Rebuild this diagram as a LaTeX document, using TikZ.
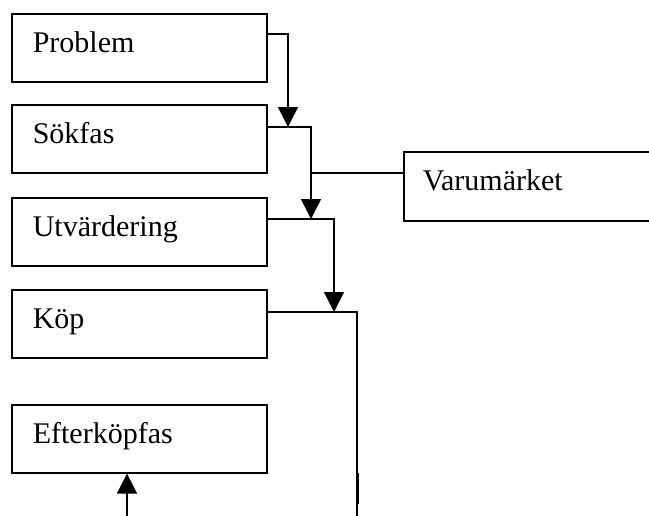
\documentclass[tikz,border=0pt]{standalone}
\usepackage{fontspec}
\setmainfont{Liberation Serif}
\usetikzlibrary{arrows.meta}
\begin{document}
\begin{tikzpicture}[x=1pt,y=-1pt,
  stage/.style={draw,line width=1.6pt,anchor=north west,inner xsep=21pt,inner ysep=0pt,
    text width=213pt,align=left,text height=39pt,text depth=29pt,
    font=\fontsize{30}{36}\selectfont},
  conn/.style={line width=1.5pt},
  arr/.style={conn,-{Triangle[length=20pt,width=20pt]}}]
\useasboundingbox (0,0) rectangle (649,515);
\clip (0,0) rectangle (649,515);
\node[stage] (prob) at (11,13) {Problem};
\node[stage] (sok) at (11,104) {Sökfas};
\node[stage] (utv) at (11,197) {Utvärdering};
\node[stage] (kop) at (11,289) {Köp};
\node[stage] (eft) at (11,404) {Efterköpfas};
\node[stage,inner xsep=19pt,text width=262pt,text depth=30pt] (var) at (403,151) {Varumärket};
\coordinate (p1) at (288,34);
\coordinate (p2) at (288,127);
\coordinate (s1) at (311,127);
\coordinate (s2) at (311,219);
\coordinate (s3) at (311,173);
\coordinate (u1) at (334,219);
\coordinate (u2) at (334,312);
\coordinate (k1) at (357,312);
\coordinate (k2) at (357,522);
\coordinate (t1) at (357,473);
\coordinate (t2) at (357,504);
\coordinate (e1) at (127,522);
\draw[arr] (prob.east |- p1) -- (p1) -- (p2);
\draw[arr] (sok.east |- s1) -- (s1) -- (s2);
\draw[conn] (s3) -- (var.west |- s3);
\draw[arr] (utv.east |- u1) -- (u1) -- (u2);
\draw[conn] (kop.east |- k1) -- (k1) -- (k2);
\draw[line width=3pt] (t1) -- (t2);
\draw[arr] (e1) -- (e1 |- eft.south);
\end{tikzpicture}
\end{document}
